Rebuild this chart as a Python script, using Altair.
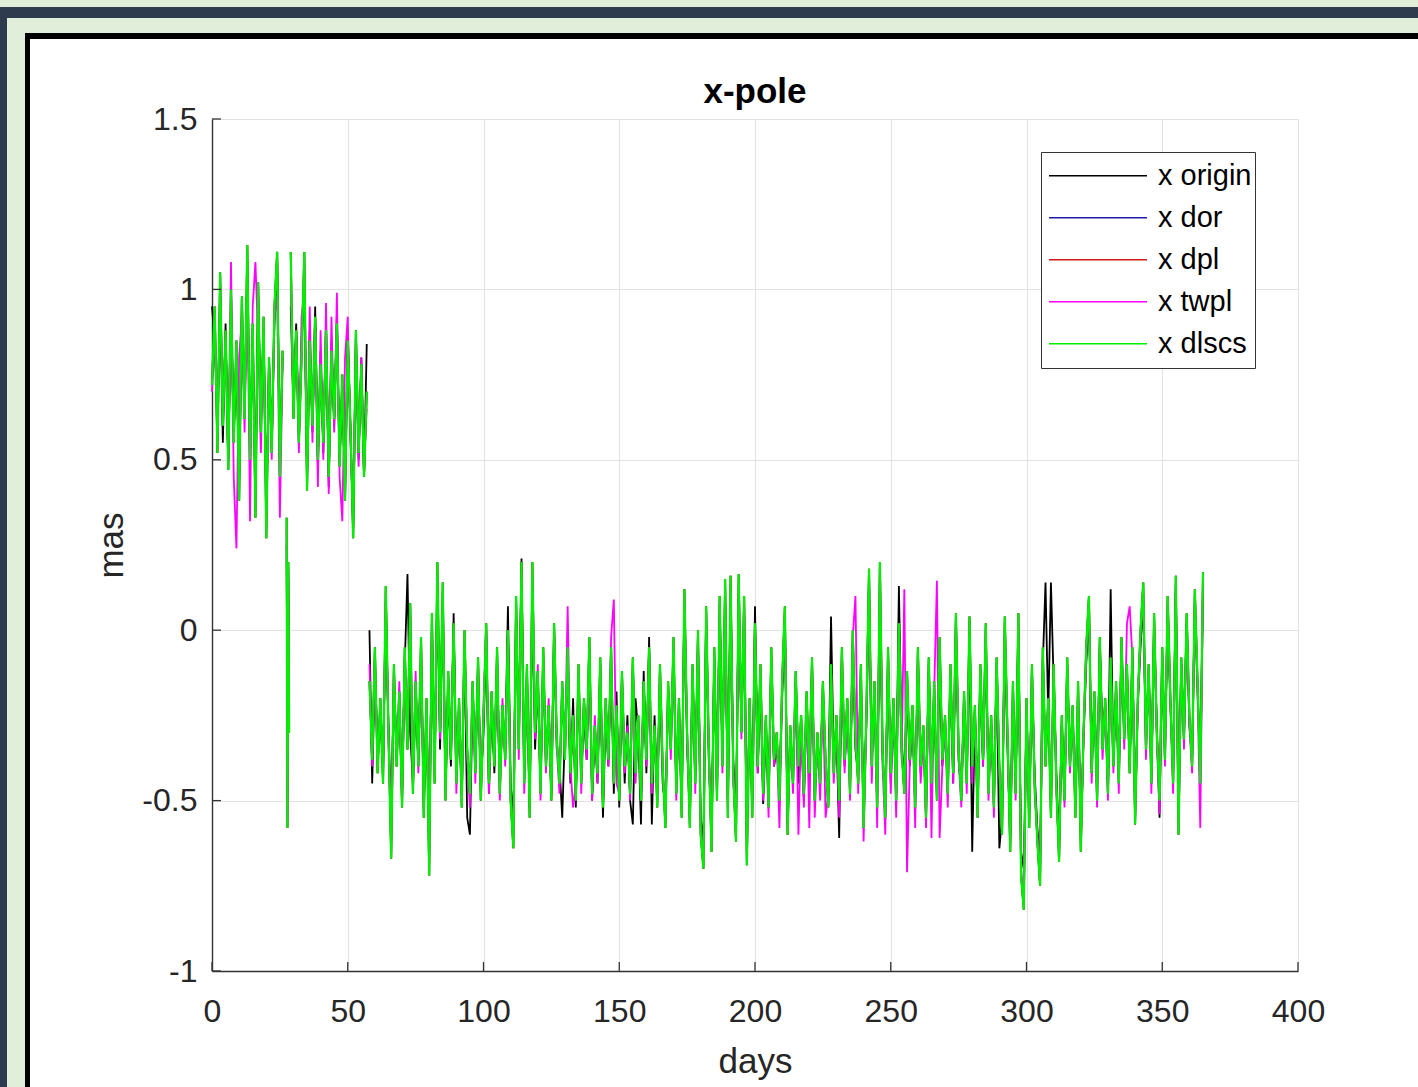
import altair as alt
import pandas as pd

# ---------------- data ----------------
series_names = ["x origin", "x dor", "x dpl", "x twpl", "x dlscs"]
series_colors = ["#000000", "#1c1ca8", "#d01818", "#ff00ff", "#00f000"]

b1_start = 0
spike_days = [27.5, 27.8, 28.1, 28.4]
b2_start = 29
s3_start = 58

x_ticks = [0, 50, 100, 150, 200, 250, 300, 350, 400]
y_ticks = [-1, -0.5, 0, 0.5, 1, 1.5]

# --- x origin (black), daily samples
origin_b1 = [0.95, 0.85, 0.60, 0.98, 0.55, 0.90, 0.50, 0.95, 0.58, 0.80,
             0.45, 0.92, 0.65, 1.05, 0.52, 0.85, 0.42, 0.98, 0.60, 0.88,
             0.36, 0.78, 0.55, 0.90, 1.08, 0.48, 0.80]
origin_spike = [0.25, -0.50, 0.15, -0.20]
origin_b2 = [0.95, 0.65, 0.90, 0.58, 0.85, 1.02, 0.45, 0.88, 0.58, 0.95,
             0.48, 0.82, 0.52, 0.90, 0.42, 0.85, 0.60, 0.92, 0.50, 0.72,
             0.40, 0.88, 0.58, 0.30, 0.84, 0.50, 0.80, 0.45, 0.84]
origin_s3 = [
    0.00, -0.45, -0.12, -0.35, -0.25, -0.40, 0.05, -0.28, -0.55, -0.15,
    -0.35, -0.22, -0.48, -0.10, 0.165, -0.30, -0.45, -0.20, -0.38, -0.08,
    -0.50, -0.25, -0.60, 0.00, -0.40, 0.12, -0.35, 0.08, -0.45, -0.18,
    -0.40, 0.05, -0.42, -0.25, -0.48, -0.05, -0.55, -0.60, -0.20, -0.38,
    -0.12, -0.45, -0.30, -0.02, -0.48, -0.22, -0.42, -0.10, -0.45, -0.25,
    -0.35, 0.07, -0.45, -0.55, 0.05, -0.30, 0.21, -0.42, -0.15, -0.52,
    0.10, -0.35, -0.15, -0.45, -0.10, -0.38, -0.25, -0.48, -0.02, -0.35,
    -0.40, -0.55, -0.30, -0.10, -0.45, -0.20, -0.52, -0.15, -0.42, -0.25,
    -0.38, -0.08, -0.50, -0.30, -0.45, -0.12, -0.55, -0.25, -0.40, -0.10,
    -0.48, -0.18, -0.52, -0.15, -0.45, -0.25, -0.50, -0.57, -0.20, -0.30,
    -0.57, -0.12, -0.42, -0.02, -0.57, -0.25, -0.48, -0.15, -0.45, -0.52,
    -0.20, -0.30, -0.08, -0.45, -0.25, -0.50, 0.08, -0.35, -0.52, -0.15,
    -0.42, -0.05, -0.55, -0.62, 0.02, -0.38, -0.58, -0.10, -0.45, 0.05,
    -0.35, 0.08, -0.50, 0.10, -0.38, -0.55, 0.10, -0.28, 0.05, -0.60,
    -0.25, -0.50, 0.07, -0.42, -0.15, -0.51, -0.30, -0.48, -0.10, -0.40,
    -0.35, -0.45, -0.20, 0.02, -0.55, -0.32, -0.42, -0.18, -0.45, -0.28,
    -0.50, -0.22, -0.45, -0.12, -0.48, -0.35, -0.40, -0.20, -0.42, -0.48,
    0.04, -0.38, -0.30, -0.61, -0.10, -0.40, -0.25, -0.45, -0.05, -0.35,
    -0.42, -0.15, -0.52, -0.28, 0.10, -0.38, -0.20, -0.48, 0.12, -0.38,
    -0.50, -0.10, -0.45, -0.25, -0.48, 0.13, -0.32, -0.45, -0.18, -0.40,
    -0.28, -0.48, -0.10, -0.42, -0.30, -0.52, -0.12, -0.42, -0.20, -0.48,
    -0.08, -0.40, -0.28, -0.45, -0.15, -0.45, 0.00, -0.38, -0.48, -0.22,
    -0.42, -0.02, -0.65, -0.25, -0.50, -0.15, -0.40, -0.05, -0.45, -0.30,
    -0.48, -0.12, -0.64, -0.55, -0.02, -0.35, -0.60, -0.20, -0.45, 0.00,
    -0.65, -0.70, -0.25, -0.52, -0.15, -0.42, -0.58, -0.68, -0.10, 0.14,
    -0.25, 0.14, -0.15, -0.42, -0.62, -0.28, -0.48, -0.12, -0.38, -0.25,
    -0.50, -0.20, -0.60, -0.32, -0.10, 0.05, -0.40, -0.20, -0.45, -0.05,
    -0.30, -0.22, -0.45, 0.12, -0.38, -0.18, -0.42, -0.05, -0.30, -0.12,
    -0.40, -0.08, -0.52, -0.22, -0.05, 0.08, -0.32, -0.12, -0.42, 0.00,
    -0.28, -0.55, -0.10, -0.35, 0.05, -0.22, -0.42, 0.12, -0.52, -0.10,
    -0.30, 0.02, -0.28, -0.38, 0.08, -0.18, -0.40, 0.10]

# --- x twpl (magenta), daily samples
twpl_b1 = [0.70, 0.90, 0.55, 1.00, 0.62, 0.85, 0.50, 1.08, 0.45, 0.24,
           0.80, 0.92, 0.58, 1.05, 0.32, 0.95, 1.08, 0.85, 0.52, 0.88,
           0.35, 0.75, 0.50, 0.92, 0.98, 0.33, 0.78]
twpl_spike = [0.30, -0.55, 0.18, -0.28]
twpl_b2 = [1.00, 0.70, 0.85, 0.52, 0.92, 1.00, 0.48, 0.95, 0.55, 0.90,
           0.42, 0.88, 0.50, 0.96, 0.40, 0.92, 0.58, 0.99, 0.45, 0.32,
           0.80, 0.92, 0.55, 0.35, 0.85, 0.48, 0.80, 0.50, 0.65]
twpl_s3 = [
    -0.10, -0.40, -0.08, -0.38, -0.22, -0.42, 0.08, -0.32, -0.60, -0.12,
    -0.38, -0.15, -0.50, -0.08, -0.30, 0.05, -0.45, -0.12, -0.42, -0.05,
    -0.52, -0.22, -0.65, 0.02, -0.42, 0.15, -0.32, 0.10, -0.48, -0.15,
    -0.35, 0.00, -0.48, -0.22, -0.50, -0.02, -0.38, -0.52, -0.18, -0.45,
    -0.10, -0.48, -0.22, 0.00, -0.48, -0.20, -0.38, -0.08, -0.50, -0.20,
    -0.40, -0.02, -0.48, -0.60, 0.05, -0.38, 0.15, -0.48, -0.12, -0.50,
    0.15, -0.32, -0.10, -0.50, -0.08, -0.42, -0.20, -0.48, 0.00, -0.35,
    -0.48, -0.18, -0.35, 0.07, -0.40, -0.52, -0.45, -0.12, -0.48, -0.22,
    -0.38, -0.05, -0.50, -0.25, -0.45, -0.10, -0.50, -0.22, -0.40, -0.02,
    0.09, -0.45, -0.48, -0.15, -0.42, -0.28, -0.50, -0.10, -0.45, -0.28,
    -0.48, -0.18, -0.40, -0.08, -0.48, -0.30, -0.50, -0.12, -0.42, -0.55,
    -0.18, -0.38, -0.05, -0.50, -0.22, -0.52, 0.10, -0.32, -0.55, -0.12,
    -0.48, -0.02, -0.58, -0.65, 0.05, -0.38, -0.62, -0.08, -0.48, 0.08,
    -0.42, 0.12, -0.52, 0.12, -0.45, -0.58, 0.12, -0.32, 0.08, -0.65,
    -0.22, -0.52, 0.00, -0.42, -0.12, -0.50, -0.28, -0.55, -0.08, -0.40,
    -0.32, -0.58, -0.18, 0.04, -0.58, -0.30, -0.48, -0.15, -0.60, -0.28,
    -0.52, -0.20, -0.58, -0.10, -0.55, -0.32, -0.50, -0.18, -0.55, -0.48,
    -0.12, -0.45, -0.28, -0.55, -0.08, -0.42, -0.22, -0.50, -0.02, 0.10,
    -0.48, -0.12, -0.62, -0.28, 0.15, -0.45, -0.18, -0.58, 0.15, -0.40,
    -0.60, -0.08, -0.48, -0.22, -0.55, 0.00, -0.38, 0.12, -0.71, -0.40,
    -0.25, -0.58, -0.08, -0.45, -0.30, -0.58, -0.10, -0.61, -0.18, 0.145,
    -0.61, -0.40, -0.28, -0.52, -0.12, -0.45, 0.02, -0.38, -0.52, -0.20,
    -0.48, 0.02, -0.45, -0.25, -0.55, -0.12, -0.40, 0.00, -0.50, -0.28,
    -0.55, -0.10, -0.42, -0.58, 0.02, -0.32, -0.62, -0.18, -0.50, 0.02,
    -0.70, -0.78, -0.22, -0.55, -0.12, -0.48, -0.60, -0.72, -0.08, -0.38,
    -0.22, -0.52, -0.12, -0.48, -0.65, -0.28, -0.52, -0.10, -0.42, -0.25,
    -0.52, -0.18, -0.62, -0.32, -0.08, 0.08, -0.45, -0.20, -0.52, -0.05,
    -0.38, -0.22, -0.50, -0.10, -0.42, -0.18, -0.48, -0.05, -0.35, 0.02,
    0.07, -0.08, -0.55, -0.22, -0.02, 0.10, -0.38, -0.12, -0.48, 0.02,
    -0.32, -0.54, -0.08, -0.40, 0.08, -0.22, -0.48, 0.12, -0.58, -0.10,
    -0.35, 0.02, -0.28, -0.42, 0.10, -0.18, -0.58, 0.12]

# --- x dlscs (green), daily samples
dlscs_b1 = [0.72, 0.95, 0.52, 1.05, 0.60, 0.88, 0.47, 1.00, 0.55, 0.85,
            0.38, 0.98, 0.62, 1.13, 0.50, 0.90, 0.33, 1.02, 0.58, 0.92,
            0.27, 0.80, 0.52, 0.95, 1.11, 0.45, 0.82]
dlscs_spike = [0.33, -0.58, 0.20, -0.30]
dlscs_b2 = [1.11, 0.62, 0.88, 0.55, 0.80, 1.11, 0.41, 0.85, 0.60, 0.92,
            0.50, 0.78, 0.55, 0.88, 0.45, 0.82, 0.62, 0.90, 0.48, 0.75,
            0.38, 0.85, 0.60, 0.27, 0.88, 0.52, 0.78, 0.45, 0.70]
dlscs_s3 = [
    -0.15, -0.38, -0.05, -0.42, -0.20, -0.45, 0.13, -0.30, -0.67, -0.10,
    -0.40, -0.18, -0.52, -0.05, -0.35, 0.08, -0.48, -0.15, -0.40, -0.02,
    -0.55, -0.20, -0.72, 0.05, -0.45, 0.20, -0.30, 0.14, -0.50, -0.12,
    -0.38, 0.02, -0.45, -0.20, -0.52, 0.00, -0.35, -0.48, -0.15, -0.42,
    -0.08, -0.50, -0.25, 0.02, -0.45, -0.18, -0.40, -0.05, -0.48, -0.22,
    -0.38, 0.00, -0.50, -0.64, 0.10, -0.35, 0.20, -0.45, -0.10, -0.55,
    0.20, -0.30, -0.12, -0.48, -0.05, -0.40, -0.22, -0.50, 0.02, -0.32,
    -0.45, -0.15, -0.38, -0.05, -0.42, -0.25, -0.50, -0.10, -0.45, -0.20,
    -0.35, -0.02, -0.48, -0.28, -0.42, -0.08, -0.52, -0.20, -0.38, -0.05,
    -0.45, -0.22, -0.50, -0.12, -0.40, -0.30, -0.48, -0.08, -0.42, -0.25,
    -0.50, -0.15, -0.38, -0.05, -0.45, -0.28, -0.52, -0.10, -0.40, -0.58,
    -0.15, -0.35, -0.02, -0.48, -0.20, -0.55, 0.12, -0.30, -0.58, -0.10,
    -0.45, 0.00, -0.60, -0.70, 0.07, -0.35, -0.65, -0.05, -0.50, 0.10,
    -0.40, 0.15, -0.55, 0.16, -0.42, -0.62, 0.165, -0.30, 0.10, -0.69,
    -0.20, -0.55, 0.02, -0.40, -0.10, -0.48, -0.25, -0.52, -0.05, -0.38,
    -0.30, -0.50, -0.15, 0.07, -0.60, -0.28, -0.45, -0.12, -0.40, -0.25,
    -0.48, -0.18, -0.42, -0.08, -0.50, -0.30, -0.45, -0.15, -0.38, -0.52,
    -0.10, -0.42, -0.25, -0.50, -0.05, -0.38, -0.20, -0.48, 0.00, -0.32,
    -0.45, -0.10, -0.58, -0.25, 0.18, -0.40, -0.15, -0.52, 0.20, -0.35,
    -0.55, -0.05, -0.42, -0.20, -0.50, 0.02, -0.35, -0.48, -0.12, -0.38,
    -0.22, -0.52, -0.05, -0.40, -0.28, -0.55, -0.08, -0.45, -0.15, -0.50,
    -0.02, -0.38, -0.25, -0.48, -0.10, -0.42, 0.05, -0.35, -0.50, -0.18,
    -0.45, 0.04, -0.40, -0.22, -0.55, -0.10, -0.38, 0.02, -0.48, -0.25,
    -0.52, -0.08, -0.40, -0.60, 0.04, -0.30, -0.65, -0.15, -0.48, 0.05,
    -0.72, -0.82, -0.20, -0.58, -0.10, -0.45, -0.62, -0.75, -0.05, -0.40,
    -0.20, -0.55, -0.10, -0.45, -0.68, -0.25, -0.50, -0.08, -0.40, -0.22,
    -0.55, -0.15, -0.65, -0.30, -0.05, 0.10, -0.42, -0.18, -0.50, -0.02,
    -0.35, -0.20, -0.48, -0.08, -0.40, -0.15, -0.45, -0.02, -0.32, -0.10,
    -0.42, -0.05, -0.57, -0.20, 0.00, 0.14, -0.35, -0.10, -0.45, 0.05,
    -0.30, -0.50, -0.05, -0.38, 0.10, -0.20, -0.45, 0.16, -0.60, -0.08,
    -0.32, 0.05, -0.25, -0.40, 0.12, -0.15, -0.45, 0.17]

# --- x dor / x dpl: coincide with x dlscs (fully hidden beneath it)
dor_b1, dor_spike, dor_b2, dor_s3 = list(dlscs_b1), list(dlscs_spike), list(dlscs_b2), list(dlscs_s3)
dpl_b1, dpl_spike, dpl_b2, dpl_s3 = list(dlscs_b1), list(dlscs_spike), list(dlscs_b2), list(dlscs_s3)

series_parts = {
    "x origin": (origin_b1, origin_spike, origin_b2, origin_s3),
    "x dor": (dor_b1, dor_spike, dor_b2, dor_s3),
    "x dpl": (dpl_b1, dpl_spike, dpl_b2, dpl_s3),
    "x twpl": (twpl_b1, twpl_spike, twpl_b2, twpl_s3),
    "x dlscs": (dlscs_b1, dlscs_spike, dlscs_b2, dlscs_s3),
}


def build(name):
    b1, sp, b2, s3 = series_parts[name]
    rows = []
    rows += [(b1_start + i, v, name, 1) for i, v in enumerate(b1)]
    rows += [(d, v, name, 2) for d, v in zip(spike_days, sp)]
    rows += [(b2_start + i, v, name, 3) for i, v in enumerate(b2)]
    rows += [(s3_start + i, v, name, 4) for i, v in enumerate(s3)]
    return pd.DataFrame(rows, columns=["day", "value", "series", "seg"])


# ---------------- layout ----------------
FONT = "Liberation Sans"
TXT = "#262626"
PLOT_L, PLOT_T = 212, 119
W, H = 1086, 852
TOTAL_W, TOTAL_H = 1418, 1087

x_enc = alt.X(
    "day:Q",
    scale=alt.Scale(domain=[0, 400], nice=False, zero=False),
    axis=alt.Axis(values=x_ticks, grid=True, gridColor="#e2e2e2", gridWidth=1,
                  ticks=False, tickSize=0, labelFlush=False, labelPadding=25,
                  labelFont=FONT, labelFontSize=32, labelColor=TXT,
                  domainColor="#333333", domainWidth=1.4,
                  title="days", titleFont=FONT, titleFontSize=35,
                  titleFontWeight="normal", titleColor=TXT,
                  titleX=W / 2, titleY=101, titleBaseline="alphabetic",
                  titleAlign="center"),
)
y_enc = alt.Y(
    "value:Q",
    scale=alt.Scale(domain=[-1, 1.5], nice=False, zero=False),
    axis=alt.Axis(values=y_ticks, grid=True, gridColor="#e2e2e2", gridWidth=1,
                  ticks=False, tickSize=0, labelPadding=15,
                  labelExpr="'' + datum.value",
                  labelFont=FONT, labelFontSize=32, labelColor=TXT,
                  domainColor="#333333", domainWidth=1.4,
                  title="mas", titleFont=FONT, titleFontSize=35,
                  titleFontWeight="normal", titleColor=TXT,
                  titleAngle=270, titleX=-90, titleY=H / 2,
                  titleBaseline="alphabetic", titleAlign="center"),
)
color_enc = alt.Color(
    "series:N",
    scale=alt.Scale(domain=series_names, range=series_colors),
    legend=alt.Legend(
        title=None, orient="none", legendX=829, legendY=33,
        symbolType="stroke", symbolSize=9604, symbolStrokeWidth=1.3,
        symbolOffset=4, clipHeight=41.5, rowPadding=0, padding=3,
        labelOffset=10, labelFont=FONT, labelFontSize=29, labelColor="#000000",
        strokeColor="#333333", fillColor="#ffffff", cornerRadius=0,
    ),
)


def frame_rect(px0, py0, px1, py1, color):
    return alt.Chart(pd.DataFrame({"k": [0]})).mark_rect(color=color).encode(
        x=alt.value(px0 - PLOT_L), x2=alt.value(px1 - PLOT_L),
        y=alt.value(py0 - PLOT_T), y2=alt.value(py1 - PLOT_T),
    )


NAVY = "#2e3a4e"
LGREEN = "#e1eeda"
frame = [
    frame_rect(0, 0, TOTAL_W, 7, LGREEN),
    frame_rect(0, 7, TOTAL_W, 18, NAVY),
    frame_rect(0, 18, 7, TOTAL_H, NAVY),
    frame_rect(7, 18, TOTAL_W, 33, LGREEN),
    frame_rect(7, 33, 25, TOTAL_H, LGREEN),
    frame_rect(25, 33, TOTAL_W, 39, "#000000"),
    frame_rect(25, 39, 30, TOTAL_H, "#000000"),
]

line_widths = {"x origin": 1.8, "x dor": 1.8, "x dpl": 1.8, "x twpl": 1.8, "x dlscs": 2.2}
lines = [
    alt.Chart(build(name)).mark_line(strokeWidth=line_widths[name]).encode(
        x=x_enc, y=y_enc, color=color_enc, detail="seg:N"
    )
    for name in series_names
]

xtick_layer = alt.Chart(pd.DataFrame({"day": x_ticks})).mark_rule(
    color="#333333", strokeWidth=1.3
).encode(x=x_enc, y=alt.value(H - 9), y2=alt.value(H))

ytick_layer = alt.Chart(pd.DataFrame({"value": y_ticks})).mark_rule(
    color="#333333", strokeWidth=1.3
).encode(y=y_enc, x=alt.value(0), x2=alt.value(9))

title_layer = alt.Chart(pd.DataFrame({"t": ["x-pole"]})).mark_text(
    font=FONT, fontSize=35, fontWeight="bold", color="#000000",
    align="center", baseline="alphabetic"
).encode(text="t:N", x=alt.value(W / 2), y=alt.value(103 - PLOT_T))

chart = alt.layer(*frame, *lines, xtick_layer, ytick_layer, title_layer).properties(
    width=W,
    height=H,
    padding={"left": PLOT_L, "top": PLOT_T, "right": TOTAL_W - PLOT_L - W,
             "bottom": TOTAL_H - PLOT_T - H},
    autosize=alt.AutoSizeParams(type="none"),
).configure(background="#ffffff").configure_view(strokeWidth=0)

chart.save("out.html", embed_options={"renderer": "svg", "actions": False})
